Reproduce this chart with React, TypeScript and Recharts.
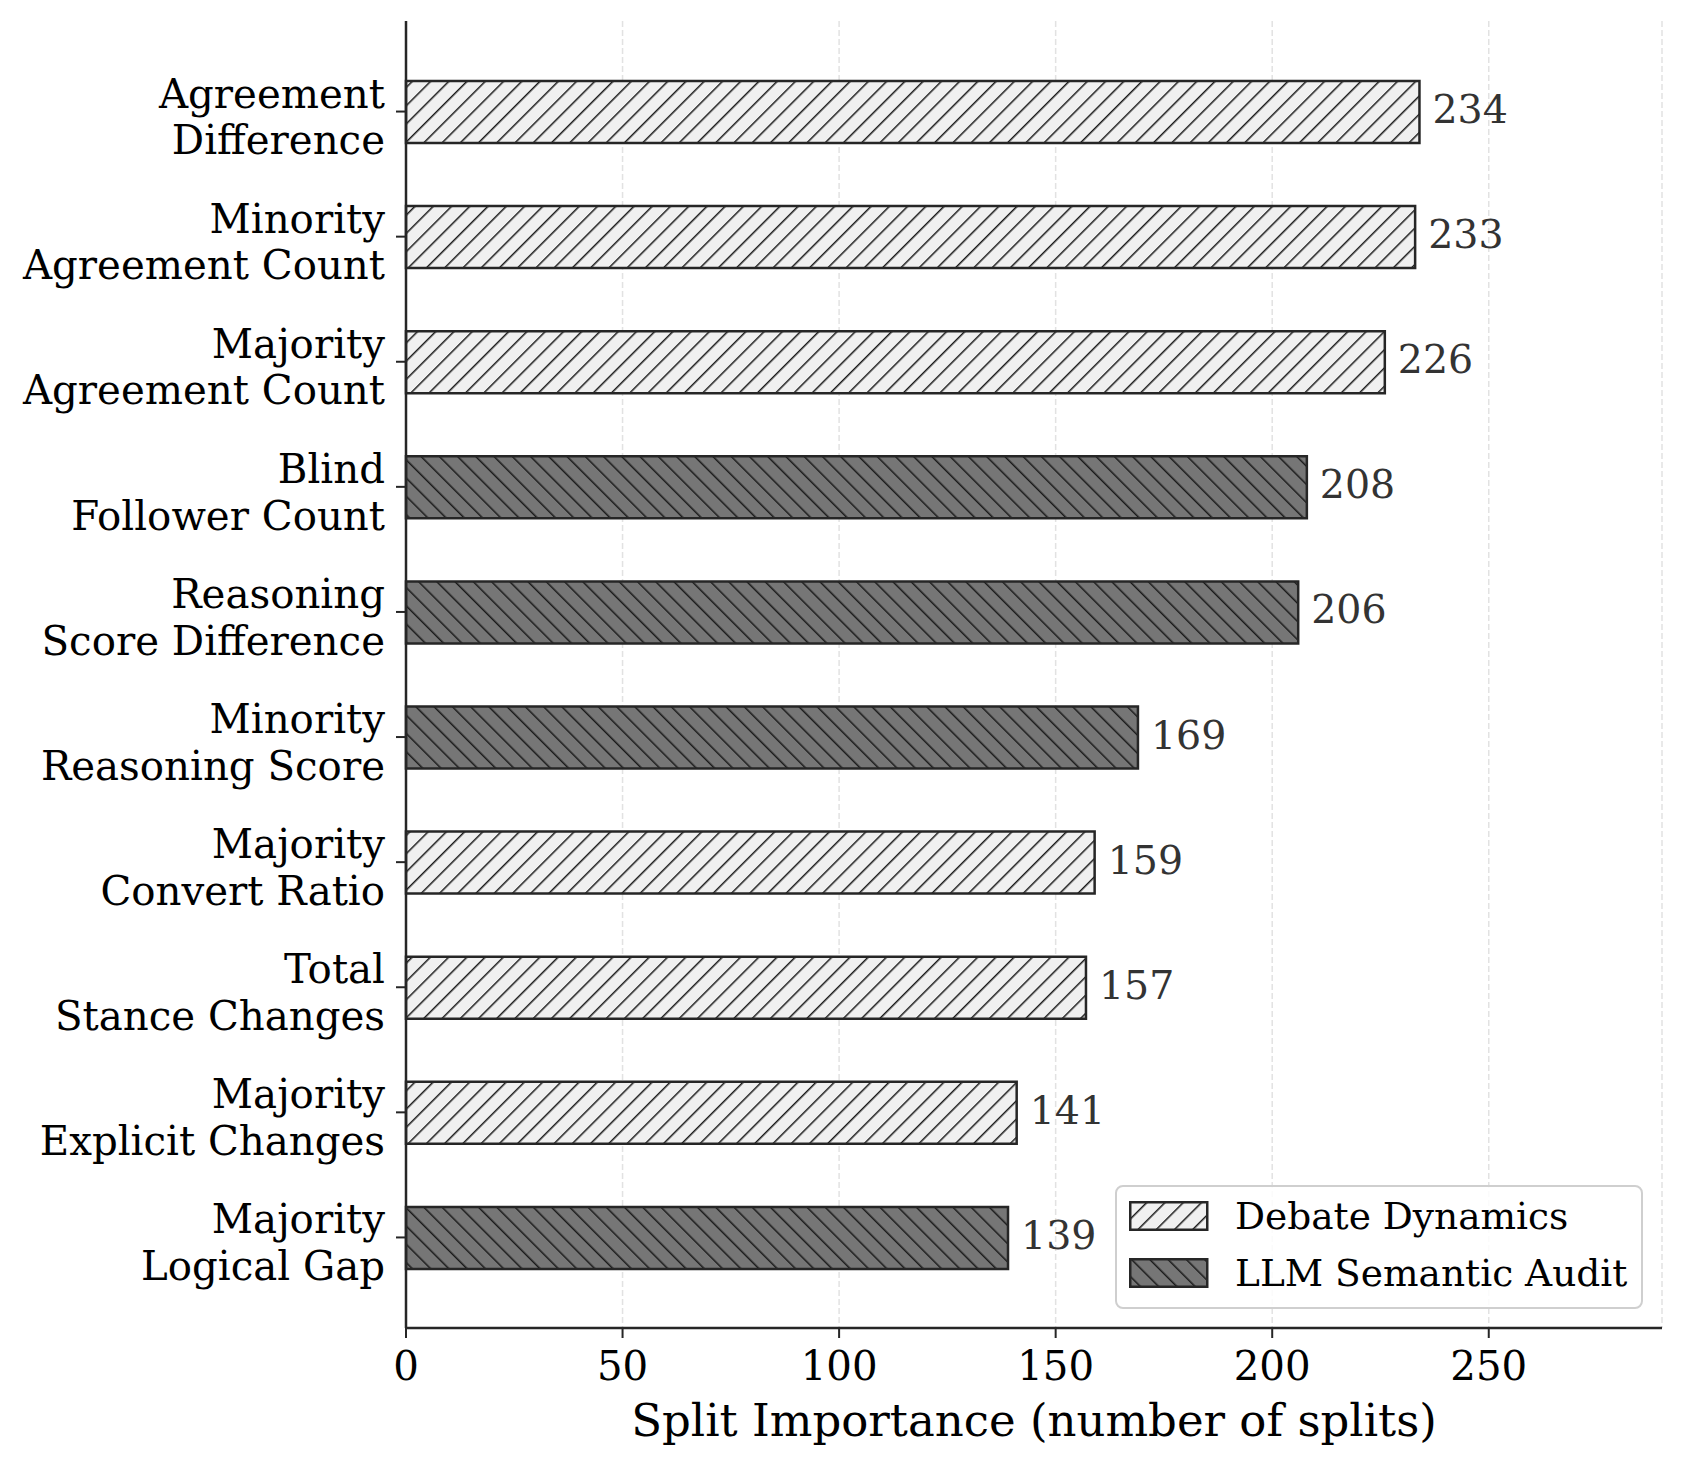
import React from 'react';
import { BarChart, Bar, XAxis, YAxis, CartesianGrid, Cell, LabelList } from 'recharts';

// feature names (two lines each), top to bottom
const FEATURES = [
  'Agreement\nDifference',
  'Minority\nAgreement Count',
  'Majority\nAgreement Count',
  'Blind\nFollower Count',
  'Reasoning\nScore Difference',
  'Minority\nReasoning Score',
  'Majority\nConvert Ratio',
  'Total\nStance Changes',
  'Majority\nExplicit Changes',
  'Majority\nLogical Gap',
];
const SPLITS = [234, 233, 226, 208, 206, 169, 159, 157, 141, 139];
// 0 = Debate Dynamics, 1 = LLM Semantic Audit
const GROUP = [0, 0, 0, 1, 1, 1, 0, 0, 0, 1];
const GROUP_NAMES = ['Debate Dynamics', 'LLM Semantic Audit'];
const X_TICKS = [0, 50, 100, 150, 200, 250];

const FONT = '"DejaVu Serif", serif';
const EDGE = '#262626';

const data = FEATURES.map((f, i) => ({ name: f, value: SPLITS[i], group: GROUP[i] }));

const Hatch = ({ id, bg, angle }: { id: string; bg: string; angle: number }) => (
  <pattern id={id} patternUnits="userSpaceOnUse" width={12.9} height={12.9} patternTransform={`rotate(${angle})`}>
    <rect x={-1} y={-1} width={15} height={15} fill={bg} />
    <line x1={0} y1={-2} x2={0} y2={15} stroke="#1a1a1a" strokeWidth={3} />
  </pattern>
);

const patternDefs = (
  <defs>
    <Hatch id="hatch-debate" bg="#f0f0f0" angle={45} />
    <Hatch id="hatch-llm" bg="#767676" angle={-45} />
  </defs>
);
const FILLS = ['url(#hatch-debate)', 'url(#hatch-llm)'];

const YTick = (props: any) => {
  const { x, y, payload } = props;
  const lines = String(payload.value).split('\n');
  return (
    <text x={x} y={y} textAnchor="end" fontFamily={FONT} fontSize={40.3} fill="#000">
      <tspan x={x} dy={-4}>{lines[0]}</tspan>
      <tspan x={x} dy={46.7}>{lines[1]}</tspan>
    </text>
  );
};

const ValueLabel = (props: any) => {
  const { x, y, width, height, value } = props;
  return (
    <text x={x + width + 13} y={y + height / 2 + 11} fontFamily={FONT} fontSize={39.5} fill="#333">
      {value}
    </text>
  );
};

export default function App() {
  return (
    <div style={{ position: 'absolute', left: 0, top: 0, width: 1683, height: 1468, background: '#fff' }}>
      <BarChart
        width={1683}
        height={1468}
        data={data}
        layout="vertical"
        margin={{ top: 21, right: 21, left: 0, bottom: 0 }}
      >
        {patternDefs}
        <CartesianGrid horizontal={false} stroke="#e2e2e2" strokeWidth={1.5} strokeDasharray="6 3" />
        <XAxis
          type="number"
          domain={[0, 290]}
          ticks={X_TICKS}
          height={140}
          axisLine={{ stroke: EDGE, strokeWidth: 2.5 }}
          tickLine={{ stroke: EDGE, strokeWidth: 2 }}
          tickSize={10}
          tickMargin={13}
          tick={{ fontFamily: FONT, fontSize: 40.3, fill: '#000' }}
          label={{
            value: 'Split Importance (number of splits)',
            position: 'insideBottom',
            offset: 32,
            style: { fontFamily: FONT, fontSize: 45, fill: '#000' },
          }}
        />
        <YAxis
          type="category"
          dataKey="name"
          width={406}
          padding={{ top: 28, bottom: 28 }}
          axisLine={{ stroke: EDGE, strokeWidth: 2.5 }}
          tickLine={{ stroke: EDGE, strokeWidth: 2 }}
          tickSize={10}
          tickMargin={11}
          tick={<YTick />}
          interval={0}
        />
        <Bar dataKey="value" barSize={62} stroke={EDGE} strokeWidth={2.5} isAnimationActive={false}>
          {data.map((d, i) => (
            <Cell key={i} fill={FILLS[d.group]} />
          ))}
          <LabelList dataKey="value" content={<ValueLabel />} />
        </Bar>
      </BarChart>

      {/* legend box, lower right */}
      <div
        style={{
          position: 'absolute',
          left: 1115,
          top: 1185,
          width: 524,
          height: 120,
          border: '2px solid #cfcfcf',
          borderRadius: 8,
          background: 'rgba(255,255,255,0.85)',
        }}
      >
        {GROUP_NAMES.map((name, i) => (
          <div key={name} style={{ position: 'absolute', left: 12, top: 15 + i * 57, height: 28, display: 'flex', alignItems: 'center' }}>
            <svg width={80} height={30} style={{ display: 'block' }}>
              <rect x={1.25} y={1.25} width={77} height={27.5} fill={FILLS[i]} stroke={EDGE} strokeWidth={2.5} />
            </svg>
            <span style={{ marginLeft: 26, fontFamily: FONT, fontSize: 37.5, color: '#000', lineHeight: '30px', whiteSpace: 'nowrap' }}>
              {name}
            </span>
          </div>
        ))}
      </div>
    </div>
  );
}
